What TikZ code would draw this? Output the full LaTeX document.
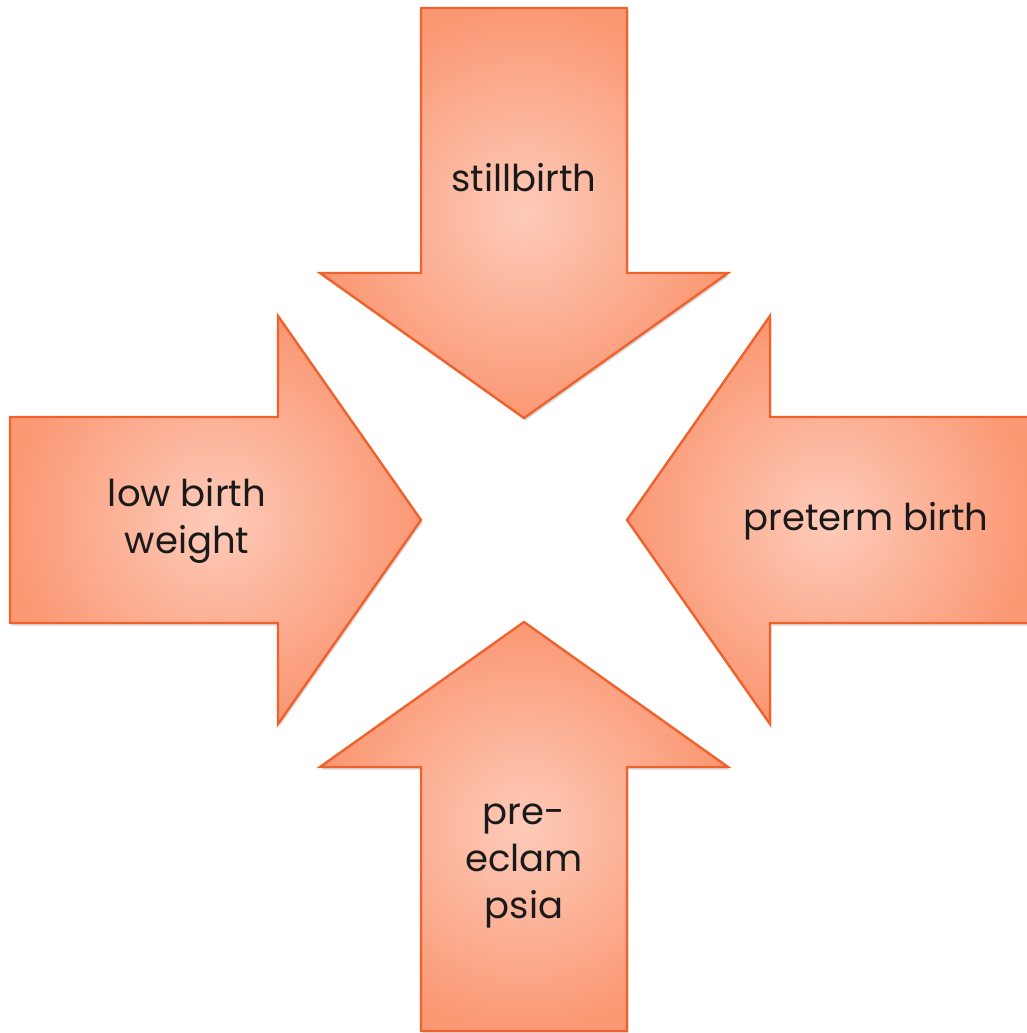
\documentclass[tikz,border=0pt]{standalone}
\usepackage{fontspec}
\setmainfont{Poppins}
\usepackage{xcolor}
\usepackage{tikz}
\usetikzlibrary{shadows}
\definecolor{arrowedge}{HTML}{F0622C}
\definecolor{arrowlight}{HTML}{FDCBB9}
\definecolor{arrowdark}{HTML}{FB9874}
\definecolor{textdark}{HTML}{1A1A1A}
\tikzset{
  bigarrow/.style={draw=arrowedge, line width=2.4pt, line join=miter, inner color=arrowlight, outer color=arrowdark,
    drop shadow={opacity=0.25, shadow xshift=1.5pt, shadow yshift=-2.5pt, fill=black!60}},
  caption/.style={font=\fontsize{37}{47}\selectfont, align=center, text=textdark, inner sep=0pt}
}
\begin{document}
\begin{tikzpicture}[x=1pt, y=-1pt]
  \useasboundingbox (0,0) rectangle (1027,1033);

  % top, bottom, left, right
  \shade[bigarrow] (421,8) -- (627,8) -- (627,273) -- (728,273) -- (524,418) -- (320,273) -- (421,273) -- cycle;
  \shade[bigarrow] (421,1031) -- (627,1031) -- (627,767) -- (728,767) -- (524,622) -- (320,767) -- (421,767) -- cycle;
  \shade[bigarrow] (10,417) -- (278,417) -- (278,316) -- (421,520) -- (278,724) -- (278,623) -- (10,623) -- cycle;
  \shade[bigarrow] (1029,417) -- (770,417) -- (770,316) -- (627,520) -- (770,724) -- (770,623) -- (1029,623) -- cycle;

  \node[caption] (still) at (524,178) {stillbirth};
  \node[caption] (lbw) at (187,521) {low birth\\weight};
  \node[caption] (preterm) at (866,521) {preterm birth};
  \node[caption] (preecl) at (524,866) {pre-\\eclam\\psia};
\end{tikzpicture}
\end{document}
